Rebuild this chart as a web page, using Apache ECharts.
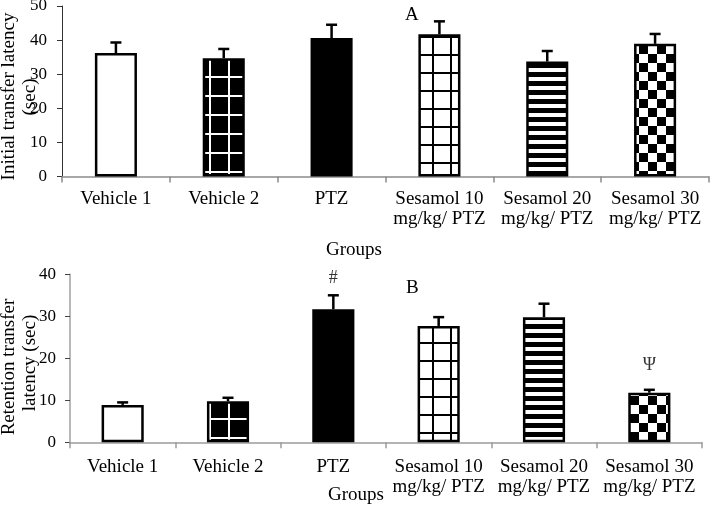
<!DOCTYPE html>
<html><head><meta charset="utf-8">
<script src="https://cdn.jsdelivr.net/npm/echarts@6/dist/echarts.min.js"></script>
<style>html,body{margin:0;padding:0;background:#fff}#c{width:710px;height:508px}</style>
</head><body><div id="c"></div>
<script>
// ---- data ----
const categories = ['Vehicle 1', 'Vehicle 2', 'PTZ', 'Sesamol 10\nmg/kg/ PTZ', 'Sesamol 20\nmg/kg/ PTZ', 'Sesamol 30\nmg/kg/ PTZ'];
const initialMean = [36.2, 34.7, 40.6, 41.7, 33.7, 38.9];
const initialErr  = [3.1, 2.7, 3.9, 3.8, 3.1, 2.9];
const retentionMean = [8.9, 9.8, 31.7, 27.7, 29.8, 11.8];
const retentionErr  = [0.6, 0.8, 3.3, 2.1, 3.2, 0.7];
const retentionMarks = ['', '', '#', '', '', 'Ψ'];
const retentionMarkY = [null, null, 39.1, null, null, 18.4];
const topTicks = [0, 10, 20, 30, 40, 50];
const bottomTicks = [0, 10, 20, 30, 40];
const topYTitle = ['Initial transfer latency', '(sec)'];
const bottomYTitle = ['Retention transfer', 'latency (sec)'];

// ---- patterns ----
function mk(w, h, draw) { const c = document.createElement('canvas'); c.width = w; c.height = h; const x = c.getContext('2d'); draw(x, w, h); return c; }
const pGridWhite = mk(19, 19, (x, w, h) => { x.fillStyle = '#000'; x.fillRect(0, 0, w, h); x.fillStyle = '#fff'; x.fillRect(0, 0, 2, h); x.fillRect(0, 0, w, 2); });
const pGridBlack = mk(18, 18, (x, w, h) => { x.fillStyle = '#fff'; x.fillRect(0, 0, w, h); x.fillStyle = '#000'; x.fillRect(0, 0, 2, h); x.fillRect(0, 0, w, 2); });
const pStripes = mk(4, 9, (x, w, h) => { x.fillStyle = '#fff'; x.fillRect(0, 0, w, h); x.fillStyle = '#000'; x.fillRect(0, 0, w, 5); });
const pChecker = mk(18, 18, (x, w, h) => { x.fillStyle = '#fff'; x.fillRect(0, 0, w, h); x.fillStyle = '#000'; x.fillRect(0, 0, 9, 9); x.fillRect(9, 9, 9, 9); });
const fills = ['#fff', { image: pGridWhite, repeat: 'repeat' }, '#000', { image: pGridBlack, repeat: 'repeat' }, { image: pStripes, repeat: 'repeat' }, { image: pChecker, repeat: 'repeat' }];

const FONT = 'Liberation Serif';
const chart = echarts.init(document.getElementById('c'), null, { renderer: 'canvas' });

function barData(vals) {
  return vals.map((v, i) => ({ value: v, itemStyle: { color: fills[i], borderColor: '#000', borderWidth: 2.5 } }));
}
function errSeries(mean, err, axisIdx) {
  return {
    type: 'custom', xAxisIndex: axisIdx, yAxisIndex: axisIdx, z: 5,
    data: mean.map((m, i) => [i, m, m + err[i]]),
    renderItem: function (params, api) {
      const a = api.coord([api.value(0), api.value(1)]);
      const b = api.coord([api.value(0), api.value(2)]);
      const st = { stroke: '#000', lineWidth: 2.5 };
      return { type: 'group', children: [
        { type: 'line', shape: { x1: a[0], y1: a[1], x2: b[0], y2: b[1] }, style: st },
        { type: 'line', shape: { x1: b[0] - 5.5, y1: b[1], x2: b[0] + 5.5, y2: b[1] }, style: st }
      ] };
    }
  };
}
function vText(str, x, y) {
  return { type: 'text', x: x, y: y, rotation: Math.PI / 2,
    style: { text: str, fontFamily: FONT, fontSize: 19, fill: '#000', align: 'center', verticalAlign: 'middle' } };
}
const catLabel = { color: '#000', fontFamily: FONT, fontSize: 19, lineHeight: 20, interval: 0 };
const valLabel = { color: '#000', fontFamily: FONT, fontSize: 17 };

chart.setOption({
  animation: false,
  grid: [
    { left: 62, right: 1, top: 6, height: 170.5, outerBoundsMode: 'none', containLabel: false },
    { left: 70, right: 8, top: 274.3, height: 168, outerBoundsMode: 'none', containLabel: false }
  ],
  xAxis: [
    { type: 'category', gridIndex: 0, data: categories,
      axisLine: { lineStyle: { color: '#8c8c8c', width: 1.5 } },
      axisTick: { show: true, length: 6, lineStyle: { color: '#8c8c8c', width: 1.5 } },
      axisLabel: Object.assign({ margin: 13 }, catLabel) },
    { type: 'category', gridIndex: 1, data: categories,
      axisLine: { lineStyle: { color: '#9c9c9c', width: 1.5 } },
      axisTick: { show: true, length: 6, lineStyle: { color: '#9c9c9c', width: 1.5 } },
      axisLabel: Object.assign({ margin: 15 }, catLabel) }
  ],
  yAxis: [
    { type: 'value', gridIndex: 0, min: 0, max: 50, interval: 10,
      axisLine: { show: true, lineStyle: { color: '#333', width: 1 } },
      axisTick: { show: true, length: 5, lineStyle: { color: '#333' } },
      splitLine: { show: false },
      axisLabel: Object.assign({ margin: 15, customValues: topTicks }, valLabel) },
    { type: 'value', gridIndex: 1, min: 0, max: 40, interval: 10,
      axisLine: { show: true, lineStyle: { color: '#a0a0a0', width: 1.5 } },
      axisTick: { show: true, length: 5, lineStyle: { color: '#444' } },
      splitLine: { show: false },
      axisLabel: Object.assign({ margin: 14, customValues: bottomTicks }, valLabel) }
  ],
  graphic: [
    vText(topYTitle[0], 9, 96.5),
    vText(topYTitle[1], 30, 97),
    vText(bottomYTitle[0], 9, 367),
    vText(bottomYTitle[1], 30, 363),
    { type: 'text', left: 326, top: 241, style: { text: 'Groups', fontFamily: FONT, fontSize: 19, fill: '#000' } },
    { type: 'text', left: 328, top: 486, style: { text: 'Groups', fontFamily: FONT, fontSize: 19, fill: '#000' } },
    { type: 'text', left: 405, top: 6, style: { text: 'A', fontFamily: FONT, fontSize: 19, fill: '#000' } },
    { type: 'text', left: 406, top: 279, style: { text: 'B', fontFamily: FONT, fontSize: 19, fill: '#000' } }
  ],
  series: [
    { type: 'bar', xAxisIndex: 0, yAxisIndex: 0, barWidth: '39%', data: barData(initialMean) },
    errSeries(initialMean, initialErr, 0),
    { type: 'bar', xAxisIndex: 1, yAxisIndex: 1, barWidth: '40%', data: barData(retentionMean) },
    errSeries(retentionMean, retentionErr, 1),
    { type: 'scatter', xAxisIndex: 1, yAxisIndex: 1, symbolSize: 0, silent: true,
      data: retentionMarkY.map((y, i) => y == null ? null : [i, y]).filter(d => d),
      label: { show: true, position: 'inside', fontFamily: FONT, fontSize: 18, color: '#000',
        formatter: p => retentionMarks[p.data[0]] } }
  ]
});
</script></body></html>
